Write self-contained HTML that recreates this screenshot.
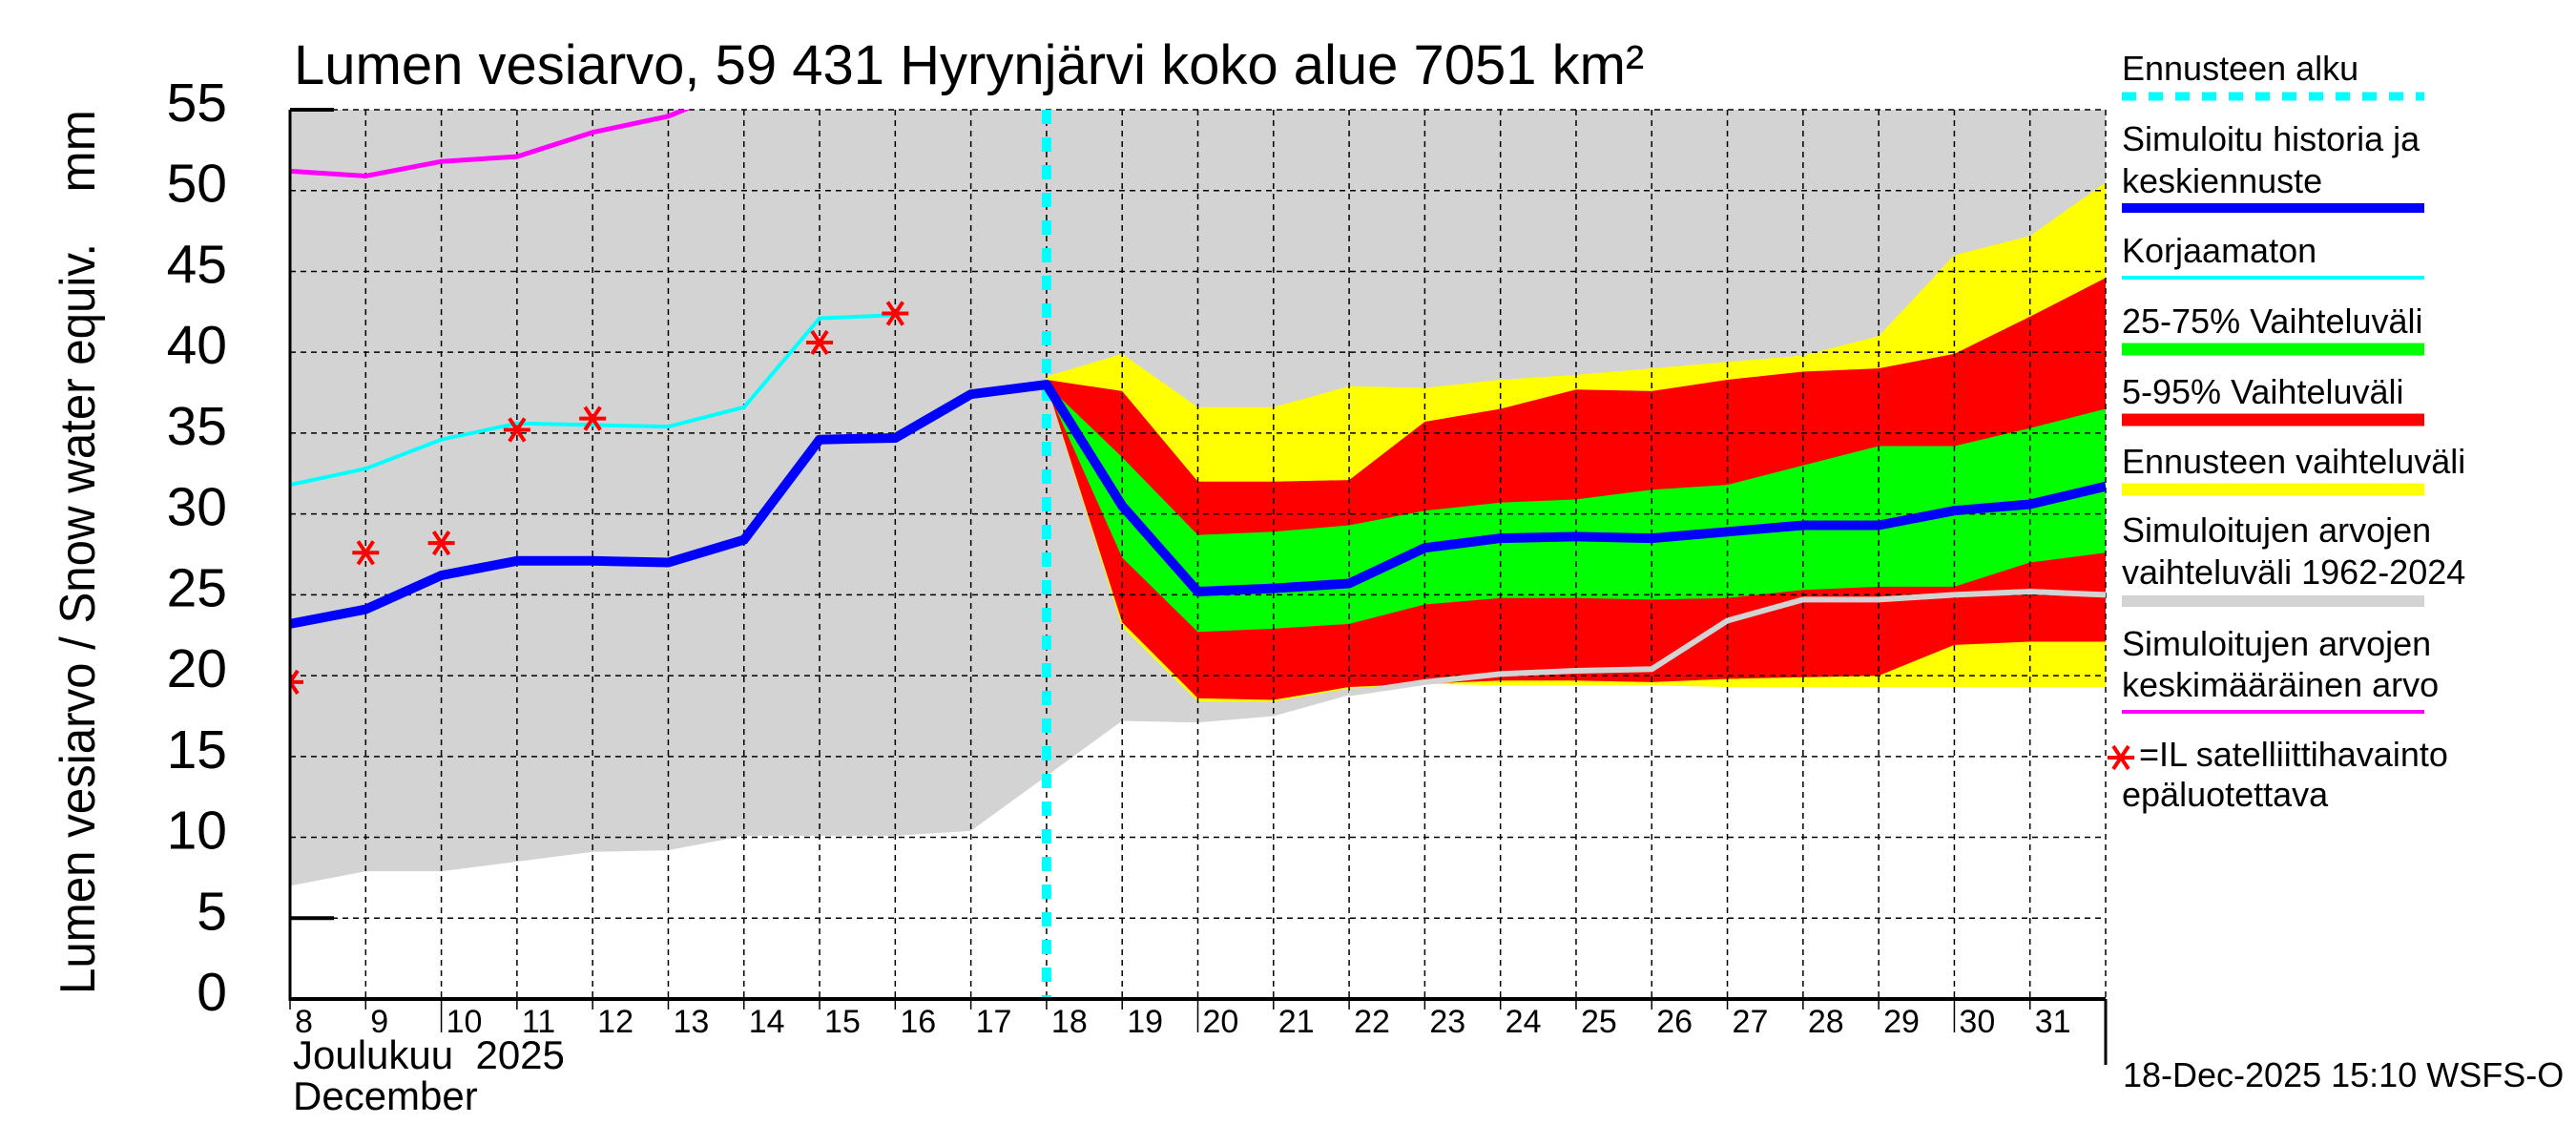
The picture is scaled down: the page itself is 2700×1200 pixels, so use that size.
<!DOCTYPE html>
<html><head><meta charset="utf-8"><style>
html,body{margin:0;padding:0;background:#fff;}
svg{display:block;font-family:"Liberation Sans",Arial,sans-serif;}
text{white-space:pre;}
</style></head><body>
<svg id="chart" width="2700" height="1200" viewBox="0 0 2700 1200" xmlns="http://www.w3.org/2000/svg">
<defs><clipPath id="plotclip"><rect x="304" y="115" width="1903" height="932"/></clipPath></defs>
<text x="308" y="88" font-size="58">Lumen vesiarvo, 59 431 Hyrynjärvi koko alue 7051 km²</text>
<text transform="translate(99,1042) rotate(-90)" font-size="52" textLength="787" lengthAdjust="spacingAndGlyphs">Lumen vesiarvo / Snow water equiv.</text>
<text transform="translate(99,115) rotate(-90)" text-anchor="end" font-size="52">mm</text>
<g id="bands" clip-path="url(#plotclip)"></g>
<g id="grid"></g>
<g id="lines" clip-path="url(#plotclip)"></g>
<g id="axes"></g>
<g font-size="36">
 <text x="2224" y="84">Ennusteen alku</text>
 <line x1="2224" y1="101" x2="2541" y2="101" stroke="#00ffff" stroke-width="9" stroke-dasharray="15,13"/>
 <text x="2224" y="158">Simuloitu historia ja</text><text x="2224" y="202">keskiennuste</text>
 <line x1="2224" y1="218" x2="2541" y2="218" stroke="#0000ff" stroke-width="10"/>
 <text x="2224" y="275">Korjaamaton</text>
 <line x1="2224" y1="291" x2="2541" y2="291" stroke="#00ffff" stroke-width="4"/>
 <text x="2224" y="349">25-75% Vaihteluväli</text>
 <line x1="2224" y1="366" x2="2541" y2="366" stroke="#00ff00" stroke-width="13"/>
 <text x="2224" y="423">5-95% Vaihteluväli</text>
 <line x1="2224" y1="440" x2="2541" y2="440" stroke="#ff0000" stroke-width="13"/>
 <text x="2224" y="496">Ennusteen vaihteluväli</text>
 <line x1="2224" y1="513" x2="2541" y2="513" stroke="#ffff00" stroke-width="13"/>
 <text x="2224" y="568">Simuloitujen arvojen</text><text x="2224" y="612">vaihteluväli 1962-2024</text>
 <line x1="2224" y1="630" x2="2541" y2="630" stroke="#d3d3d3" stroke-width="12"/>
 <text x="2224" y="687">Simuloitujen arvojen</text><text x="2224" y="730">keskimääräinen arvo</text>
 <line x1="2224" y1="746" x2="2541" y2="746" stroke="#ff00ff" stroke-width="4"/>
 <g stroke="#ff0000" stroke-width="4"><line x1="2209" y1="794" x2="2237" y2="794"/><line x1="2215" y1="782" x2="2231" y2="806"/><line x1="2215" y1="806" x2="2231" y2="782"/></g>
 <text x="2242" y="803">=IL satelliittihavainto</text><text x="2224" y="845">epäluotettava</text>
</g>
<text x="2225" y="1139" font-size="36">18-Dec-2025 15:10 WSFS-O</text>
</svg>
<script>
const days = [8,9,10,11,12,13,14,15,16,17,18,19,20,21,22,23,24,25,26,27,28,29,30,31,32];
const simulated = [23.2,24.1,26.2,27.1,27.1,27.0,28.4,34.6,34.7,37.4,38.0,30.5,25.2,25.4,25.7,27.9,28.5,28.6,28.5,28.9,29.3,29.3,30.2,30.6,31.7];
const uncorrectedDays = [8,9,10,11,12,13,14,15,16];
const uncorrected = [31.8,32.8,34.6,35.6,35.5,35.4,36.6,42.1,42.3];
const meanDays = [8,9,10,11,12,13,14];
const meanValues = [51.2,50.9,51.8,52.1,53.6,54.6,56.5];
const starDays = [8,9,10,11,12,15,16];
const starValues = [19.6,27.6,28.2,35.2,35.9,40.6,42.4];
const histLower = [7.0,7.9,7.9,8.5,9.1,9.2,10.1,10.1,10.1,10.4,13.8,17.2,17.1,17.5,18.8,19.6,20.0,20.2,20.3,19.3,19.3,19.3,19.3,19.3,19.3];
const histUpper = [60,60,60,60,60,60,60,60,60,60,60,60,60,60,60,60,60,60,60,60,60,60,60,60,60];
const histMeanDays = [22,23,24,25,26,27,28,29,30,31,32];
const histMean = [18.9,19.6,20.1,20.3,20.4,23.4,24.7,24.7,25.0,25.2,25.0];
const fcDays = [18,19,20,21,22,23,24,25,26,27,28,29,30,31,32];
const yellowUp = [38.5,39.9,36.6,36.6,37.9,37.8,38.3,38.6,39.0,39.4,39.8,41.0,46.0,47.2,50.5];
const yellowLo = [38.0,23.0,18.4,18.4,19.2,19.5,19.4,19.4,19.4,19.3,19.3,19.3,19.3,19.3,19.3];
const redUp = [38.3,37.6,32.0,32.0,32.1,35.7,36.5,37.7,37.6,38.3,38.8,39.0,39.9,42.2,44.6];
const redLo = [38.0,23.3,18.6,18.5,19.3,19.5,19.7,19.7,19.6,19.8,19.9,20.0,21.9,22.1,22.1];
const greenUp = [38.0,33.5,28.7,28.9,29.3,30.2,30.7,30.9,31.5,31.8,33.0,34.2,34.2,35.3,36.5];
const greenLo = [37.8,27.3,22.7,22.9,23.2,24.4,24.8,24.8,24.7,24.8,25.3,25.5,25.5,27.0,27.6];
const yTicks = [0,5,10,15,20,25,30,35,40,45,50,55];
const xLabels = ["8","9","10","11","12","13","14","15","16","17","18","19","20","21","22","23","24","25","26","27","28","29","30","31"];
const forecastDay = 18;

const NS = "http://www.w3.org/2000/svg";
const X0 = 304, X1 = 2207, Y0 = 1047, Y1 = 115;
function xs(d){ return X0 + (d - 8) * (X1 - X0) / 24; }
function ys(v){ return Y0 - v * (Y0 - Y1) / 55; }
function mk(tag, attrs, parent){ const e = document.createElementNS(NS, tag); for (const k in attrs) e.setAttribute(k, attrs[k]); parent.appendChild(e); return e; }
function pts(dx, vals){ return dx.map((d,i)=>xs(d).toFixed(1)+","+ys(vals[i]).toFixed(1)).join(" "); }
function band(dx, up, lo){ return pts(dx, up) + " " + pts(dx.slice().reverse(), lo.slice().reverse()); }

const bands = document.getElementById("bands");
let e;
e = mk("polygon", {points: band(days, histUpper, histLower), fill:"#d3d3d3"}, bands);


e = mk("polygon", {points: band(fcDays, yellowUp, yellowLo), fill:"#ffff00"}, bands);


e = mk("polygon", {points: band(fcDays, redUp, redLo), fill:"#ff0000"}, bands);


e = mk("polygon", {points: band(fcDays, greenUp, greenLo), fill:"#00ff00"}, bands);



const grid = document.getElementById("grid");
for (let d = 9; d <= 32; d++) {
  e = mk("line", {x1: xs(d), y1: Y1, x2: xs(d), y2: Y0, stroke:"#000", "stroke-width":1.5, "stroke-dasharray":"6,5"}, grid);
  
  
}
yTicks.forEach(v => {
  if (v === 0) return;
  e = mk("line", {x1: X0, y1: ys(v), x2: X1, y2: ys(v), stroke:"#000", "stroke-width":1.5, "stroke-dasharray":"6,5"}, grid);
  
  
});

const lines = document.getElementById("lines");
e = mk("polyline", {points: pts(histMeanDays, histMean), fill:"none", stroke:"#d3d3d3", "stroke-width":6}, lines);


e = mk("polyline", {points: pts(meanDays, meanValues), fill:"none", stroke:"#ff00ff", "stroke-width":5}, lines);


e = mk("polyline", {points: pts(uncorrectedDays, uncorrected), fill:"none", stroke:"#00ffff", "stroke-width":4}, lines);


e = mk("line", {x1: xs(forecastDay), y1: Y1, x2: xs(forecastDay), y2: Y0, stroke:"#00ffff", "stroke-width":10, "stroke-dasharray":"15,14"}, lines);


e = mk("polyline", {points: pts(days, simulated), fill:"none", stroke:"#0000ff", "stroke-width":10, "stroke-linejoin":"round"}, lines);


starDays.forEach((d,i) => {
  const cx = xs(d), cy = ys(starValues[i]);
  const g = mk("g", {stroke:"#ff0000", "stroke-width":4}, lines);
  
  
  mk("line", {x1: cx-14, y1: cy, x2: cx+14, y2: cy}, g);
  mk("line", {x1: cx-8, y1: cy-12, x2: cx+8, y2: cy+12}, g);
  mk("line", {x1: cx-8, y1: cy+12, x2: cx+8, y2: cy-12}, g);
});

const axes = document.getElementById("axes");
mk("line", {x1: X0, y1: Y1, x2: X0, y2: Y0+2, stroke:"#000", "stroke-width":3}, axes);
mk("line", {x1: X0, y1: Y0, x2: X1, y2: Y0, stroke:"#000", "stroke-width":4}, axes);
mk("line", {x1: X1, y1: Y0, x2: X1, y2: 1116, stroke:"#000", "stroke-width":3}, axes);
mk("line", {x1: X0, y1: ys(5), x2: 350, y2: ys(5), stroke:"#000", "stroke-width":4}, axes);
mk("line", {x1: X0, y1: ys(55), x2: 350, y2: ys(55), stroke:"#000", "stroke-width":4}, axes);
yTicks.forEach(v => {
  e = mk("text", {x: 238, y: ys(v)+12, "text-anchor":"end", "font-size":57}, axes);
  e.textContent = v;
  
  
});
xLabels.forEach((t,i) => {
  const x = xs(8+i);
  const d = 8 + i;
  mk("line", {x1: x, y1: Y0, x2: x, y2: (d % 10 === 0) ? 1082 : 1058, stroke:"#000", "stroke-width":1.5}, axes);
  e = mk("text", {x: x+5, y: 1082, "font-size":34}, axes);
  e.textContent = t;
  
  
});
e = mk("text", {x: 307, y: 1120, "font-size":42}, axes);
e.textContent = "Joulukuu\u00a0\u00a02025";


e = mk("text", {x: 307, y: 1163, "font-size":42}, axes);
e.textContent = "December";


</script>
</body></html>
